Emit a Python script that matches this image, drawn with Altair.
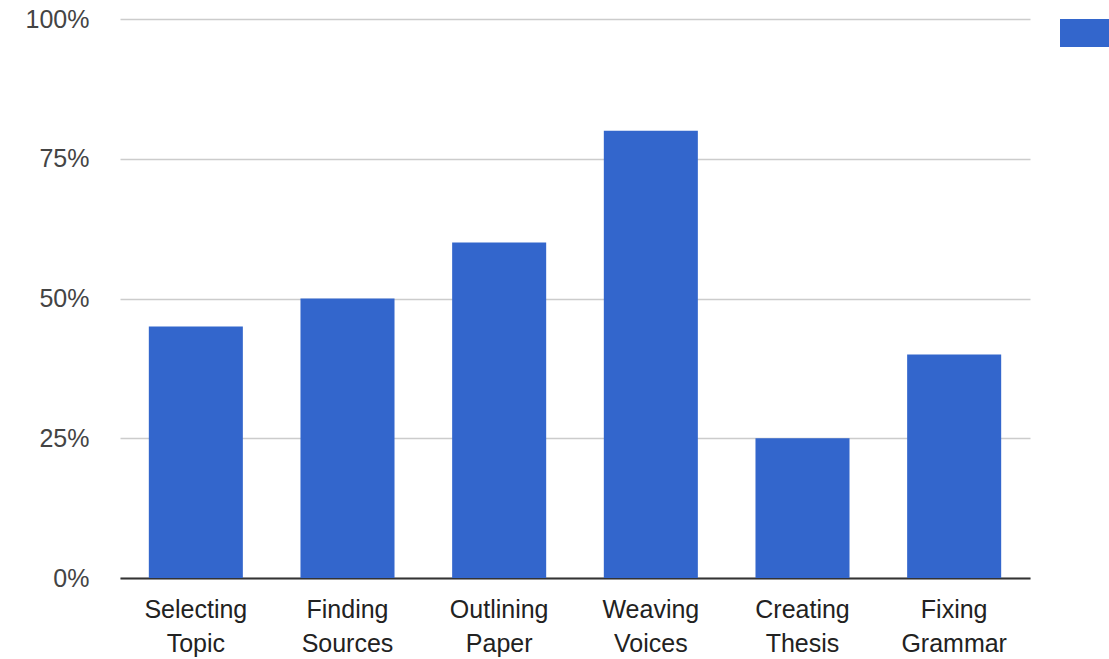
import altair as alt
import pandas as pd

categories = ["Selecting Topic", "Finding Sources", "Outlining Paper", "Weaving Voices", "Creating Thesis", "Fixing Grammar"]
values = [45, 50, 60, 80, 25, 40]
series_name = ["Percentage"]
y_ticks = [0, 25, 50, 75, 100]

df = pd.DataFrame({"category": categories, "value": values, "series": series_name * len(categories)})

FONT = "Liberation Sans"

chart = alt.Chart(df).mark_bar(color="#3366cc").encode(
    x=alt.X("category:N", sort=categories, title=None,
            scale=alt.Scale(paddingInner=0.38, paddingOuter=0.19),
            axis=alt.Axis(labelAngle=0, labelExpr="split(datum.label, ' ')",
                          labelFontSize=25, labelColor="#222", labelFont=FONT,
                          labelLineHeight=34, labelPadding=19, ticks=False,
                          domainColor="#333", domainWidth=2, grid=False,
                          labelBaseline="top")),
    y=alt.Y("value:Q", title=None, scale=alt.Scale(domain=[0, 100], nice=False),
            axis=alt.Axis(values=y_ticks, labelExpr="datum.value + '%'",
                          labelFontSize=25, labelColor="#444", labelFont=FONT,
                          labelPadding=31, ticks=False, domain=False,
                          gridColor="#cccccc", gridWidth=1.5)),
    color=alt.Color("series:N", title=None,
                    scale=alt.Scale(range=["#3366cc"]),
                    legend=alt.Legend(orient="none", legendX=940, legendY=-16,
                                      symbolType="M-1,-0.47H1V0.47H-1Z",
                                      symbolSize=3600, symbolStrokeWidth=0,
                                      symbolOpacity=1, labelExpr="''",
                                      labelFontSize=21, labelFont=FONT,
                                      labelColor="#222", padding=0)),
).properties(
    width=910, height=559,
    autosize=alt.AutoSizeParams(type="none"),
    padding={"left": 120, "top": 19, "right": 79, "bottom": 81},
).configure(background="white").configure_view(stroke=None)

chart.save("out.html", embed_options={"renderer": "svg", "actions": False})
